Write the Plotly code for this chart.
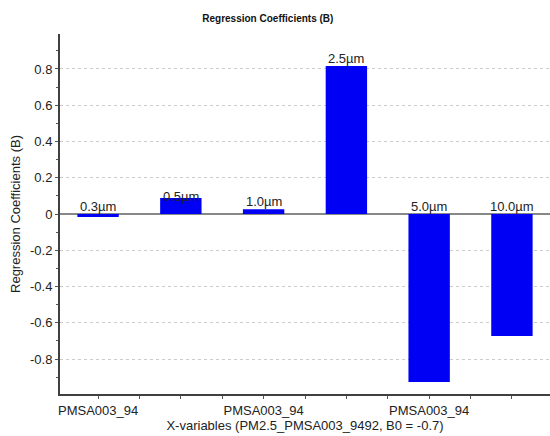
import plotly.graph_objects as go

categories = ["0.3µm", "0.5µm", "1.0µm", "2.5µm", "5.0µm", "10.0µm"]
values = [-0.017, 0.088, 0.026, 0.817, -0.927, -0.673]
x_tick_label = "PMSA003_94"
y_ticks = [-0.8, -0.6, -0.4, -0.2, 0, 0.2, 0.4, 0.6, 0.8]
y_tick_text = ["-0.8", "-0.6", "-0.4", "-0.2", "0", "0.2", "0.4", "0.6", "0.8"]

xpos = list(range(len(categories)))
fnt = "Liberation Sans, Arial, sans-serif"
fs = 13

fig = go.Figure()
fig.add_trace(go.Bar(
    x=xpos, y=values, width=0.5,
    marker=dict(color="rgb(0,0,245)", line=dict(width=0)),
    hoverinfo="skip",
))

for xi, v, c in zip(xpos, values, categories):
    shift = -8 if c == "0.5µm" else -2
    fig.add_annotation(x=xi, y=max(v, 0), text=c, showarrow=False,
                       yanchor="bottom", yshift=shift,
                       font=dict(family=fnt, size=fs, color="#222"))

xtickvals = [i * 0.5 for i in range(11)]
xticktext = [x_tick_label if (i % 4 == 0) else "" for i in range(11)]

fig.update_layout(
    width=550, height=436,
    margin=dict(l=60, r=0, t=34, b=42),
    plot_bgcolor="white", paper_bgcolor="white",
    showlegend=False,
    title=dict(text="<b>Regression Coefficients (B)</b>", x=0.487, xref="container",
               y=0.958, yref="container", xanchor="center", yanchor="middle",
               font=dict(family="Liberation Sans Narrow, Arial Narrow, sans-serif", size=10, color="#111")),
    font=dict(family=fnt, size=fs, color="#222"),
    xaxis=dict(
        range=[-0.46, 5.46], tickmode="array", tickvals=xtickvals, ticktext=xticktext,
        ticks="outside", ticklen=3, tickcolor="#555", tickwidth=1, automargin=False,
        showline=True, linecolor="#404040", linewidth=2, showgrid=False, zeroline=False,
        title=dict(text="X-variables (PM2.5_PMSA003_9492, B0 = -0.7)", standoff=2,
                   font=dict(family=fnt, size=fs, color="#222")),
        tickfont=dict(family=fnt, size=fs, color="#222"),
    ),
    yaxis=dict(
        range=[-0.993, 0.993], tickmode="array", tickvals=y_ticks, ticktext=y_tick_text,
        ticks="outside", ticklen=3, tickcolor="#555", tickwidth=1, automargin=False,
        showline=True, linecolor="#404040", linewidth=2,
        showgrid=True, gridcolor="#cccccc", griddash="dot", gridwidth=1,
        zeroline=True, zerolinecolor="#888", zerolinewidth=1.5,
        minor=dict(dtick=0.1, tick0=0, ticks="outside", ticklen=2, tickcolor="#555", showgrid=False),
        title=dict(text="Regression Coefficients (B)", standoff=6,
                   font=dict(family=fnt, size=fs, color="#222")),
        tickfont=dict(family=fnt, size=fs, color="#222"),
    ),
)

fig.write_html("out.html", config={"displayModeBar": False},
               post_script="document.body.style.margin='0';document.body.style.padding='0';")
